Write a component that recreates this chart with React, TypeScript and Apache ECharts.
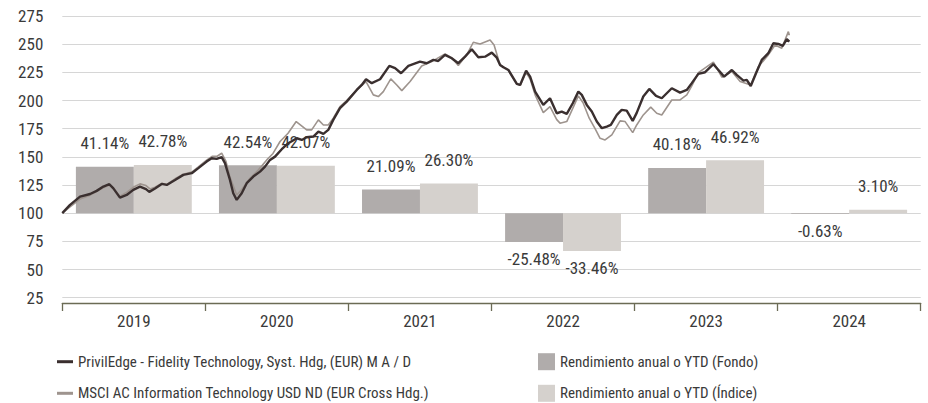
import React, { useEffect, useRef } from "react";
import * as echarts from "echarts";

const years = ["2019", "2020", "2021", "2022", "2023", "2024"];
const fundReturns = [41.14, 42.54, 21.09, -25.48, 40.18, -0.63];
const indexReturns = [42.78, 42.07, 26.3, -33.46, 46.92, 3.1];
const BASE = 100;
const yTicks = { min: 25, max: 275, interval: 25 };

const fundName = "PrivilEdge - Fidelity Technology, Syst. Hdg, (EUR) M A / D";
const indexName = "MSCI AC Information Technology USD ND (EUR Cross Hdg.)";
const fundBarName = "Rendimiento anual o YTD (Fondo)";
const indexBarName = "Rendimiento anual o YTD (Índice)";

// [decimal year, level]
const fundLine: [number, number][] = [
  [2019.0, 100], [2019.054, 107.4], [2019.124, 114.7], [2019.194, 117], [2019.24, 119.8],
  [2019.287, 123.6], [2019.329, 125.7], [2019.357, 122], [2019.403, 113.8], [2019.45, 116.2],
  [2019.496, 120.7], [2019.543, 123.6], [2019.585, 121.3], [2019.608, 118.9], [2019.648, 122],
  [2019.695, 126], [2019.73, 125.1], [2019.788, 129.5], [2019.846, 134], [2019.905, 135.5],
  [2019.951, 140], [2020.009, 145.8], [2020.044, 148.8], [2020.079, 148.2], [2020.114, 149.7],
  [2020.137, 144.4], [2020.172, 129.5], [2020.195, 117.7], [2020.219, 111.8], [2020.254, 117.7],
  [2020.289, 126.6], [2020.335, 132.5], [2020.382, 136.9], [2020.417, 141.3], [2020.452, 147.3],
  [2020.487, 150.2], [2020.534, 156.8], [2020.58, 162.1], [2020.639, 166.5], [2020.674, 165],
  [2020.708, 167.4], [2020.755, 168], [2020.79, 172.4], [2020.825, 170.4], [2020.859, 173.9],
  [2020.894, 182.8], [2020.941, 193.2], [2020.988, 199], [2021.058, 209.4], [2021.093, 213.8],
  [2021.123, 218.9], [2021.163, 215.4], [2021.221, 218.9], [2021.286, 230.7], [2021.326, 228.7],
  [2021.368, 224.2], [2021.419, 230.7], [2021.5, 234.5], [2021.547, 233.1], [2021.594, 236],
  [2021.628, 235.1], [2021.675, 240.5], [2021.722, 237.5], [2021.768, 233.1], [2021.815, 238.9],
  [2021.862, 245.5], [2021.908, 238.4], [2021.955, 238.9], [2022.002, 242.5], [2022.037, 238],
  [2022.06, 231.6], [2022.083, 229.5], [2022.118, 227.1], [2022.177, 214.7], [2022.2, 213.8],
  [2022.242, 226.5], [2022.27, 221.2], [2022.305, 207.9], [2022.362, 196.1], [2022.409, 202],
  [2022.456, 188.7], [2022.491, 190.2], [2022.526, 188.1], [2022.568, 197.6], [2022.607, 207.9],
  [2022.631, 205], [2022.666, 196.1], [2022.701, 190.2], [2022.736, 181.3], [2022.771, 175.4],
  [2022.806, 176.8], [2022.834, 178.3], [2022.876, 187.2], [2022.91, 191.7], [2022.945, 191],
  [2022.987, 181.9], [2023.015, 189], [2023.061, 203.5], [2023.103, 210.3], [2023.15, 204.1],
  [2023.19, 202], [2023.26, 210.9], [2023.318, 207], [2023.365, 209.4], [2023.4, 215.4],
  [2023.446, 223.6], [2023.493, 225.1], [2023.551, 232.2], [2023.586, 227.1], [2023.626, 221.2],
  [2023.68, 227.1], [2023.714, 222.7], [2023.761, 217.7], [2023.784, 218.3], [2023.812, 212.9],
  [2023.849, 224.2], [2023.889, 236], [2023.935, 242], [2023.97, 250.8], [2024.005, 250.2],
  [2024.036, 248.5], [2024.064, 254.4], [2024.082, 252.3],
];

const indexLine: [number, number][] = [
  [2019.0, 100], [2019.054, 105.5], [2019.124, 112.5], [2019.194, 116], [2019.287, 122.5],
  [2019.329, 125], [2019.357, 122], [2019.403, 115], [2019.45, 118.5], [2019.496, 123],
  [2019.543, 126], [2019.585, 124.5], [2019.613, 121.5], [2019.648, 123], [2019.695, 126.5],
  [2019.73, 125.5], [2019.788, 130.5], [2019.846, 134.5], [2019.905, 136.5], [2019.951, 141],
  [2020.009, 147], [2020.047, 150.5], [2020.082, 150.5], [2020.114, 153.2], [2020.144, 146],
  [2020.172, 132], [2020.219, 116.2], [2020.254, 121], [2020.312, 131], [2020.368, 138],
  [2020.429, 147.3], [2020.473, 153], [2020.522, 163.6], [2020.578, 171], [2020.635, 181.3],
  [2020.708, 173.9], [2020.743, 173.9], [2020.79, 182.8], [2020.825, 178.3], [2020.859, 178.3],
  [2020.894, 184.3], [2020.941, 194.6], [2020.988, 200], [2021.058, 209.4], [2021.123, 216.8],
  [2021.174, 205], [2021.209, 203.5], [2021.244, 207.9], [2021.296, 219.2], [2021.338, 213.8],
  [2021.373, 208.8], [2021.431, 216.8], [2021.512, 230.7], [2021.582, 234.5], [2021.675, 241.4],
  [2021.722, 238], [2021.768, 231], [2021.827, 240.5], [2021.873, 251.7], [2021.92, 250.2],
  [2021.99, 253.8], [2022.018, 249.3], [2022.06, 231.6], [2022.118, 227.1], [2022.177, 214.7],
  [2022.2, 213.5], [2022.242, 225], [2022.27, 219], [2022.305, 205], [2022.362, 189.3],
  [2022.409, 194.6], [2022.456, 183], [2022.479, 179.9], [2022.526, 181.3], [2022.568, 193],
  [2022.607, 204.1], [2022.64, 198], [2022.683, 184.3], [2022.724, 175], [2022.759, 166.5],
  [2022.794, 165], [2022.841, 169.5], [2022.899, 181.9], [2022.934, 181.3], [2022.987, 171.5],
  [2023.015, 178.3], [2023.061, 187.2], [2023.113, 194.1], [2023.155, 188.7], [2023.19, 187.2],
  [2023.26, 200.5], [2023.318, 200.5], [2023.365, 205], [2023.4, 213], [2023.446, 224.8],
  [2023.551, 234], [2023.61, 220.7], [2023.68, 225.7], [2023.738, 216.8], [2023.812, 213.8],
  [2023.866, 230.1], [2023.935, 240.5], [2023.982, 249.3], [2024.029, 246.4], [2024.075, 261.1],
  [2024.082, 258],
];

const FONT = "'Liberation Sans Narrow', 'Roboto Condensed', 'Liberation Sans', sans-serif";
const TEXT = "#3a3a3a";

function barLabel(v: number) {
  return v >= 0
    ? { show: true, position: "top", distance: 15 }
    : { show: true, position: "bottom", distance: 9 };
}

export default function App() {
  const ref = useRef<HTMLDivElement>(null);
  useEffect(() => {
    if (!ref.current) return;
    const chart = echarts.init(ref.current, undefined, { renderer: "svg" });
    const labelStyle = {
      color: TEXT,
      fontSize: 17,
      fontFamily: FONT,
      formatter: (p: any) => `${Number(p.value).toFixed(2)}%`,
    };
    chart.setOption({
      animation: false,
      backgroundColor: "#ffffff",
      textStyle: { fontFamily: FONT },
      grid: { left: 62.3, right: 7.3, top: 16, bottom: 105.3, containLabel: false },
      xAxis: [
        {
          type: "category",
          data: years,
          offset: 5.3,
          boundaryGap: true,
          axisLine: { show: true, lineStyle: { color: "#6b6b55", width: 1.3 } },
          axisTick: { show: true, length: 8, inside: false, lineStyle: { color: "#6b6b55", width: 1.3 } },
          axisLabel: { color: TEXT, fontSize: 17, fontFamily: FONT, margin: 9 },
          splitLine: { show: false },
        },
        {
          type: "value",
          min: 2019,
          max: 2025,
          show: false,
          splitLine: { show: false },
        },
      ],
      yAxis: {
        type: "value",
        min: yTicks.min,
        max: yTicks.max,
        interval: yTicks.interval,
        axisLine: { show: false },
        axisTick: { show: false },
        axisLabel: { color: TEXT, fontSize: 17, fontFamily: FONT, margin: 19, padding: [0, 0, 5, 0] },
        splitLine: { show: true, lineStyle: { color: "#d6d6d6", width: 1.2 } },
      },
      legend: [
        {
          data: [fundName, indexName],
          orient: "vertical",
          left: 57,
          top: 352.7,
          icon: "rect",
          itemWidth: 16,
          itemHeight: 3,
          itemGap: 13.6,
          textStyle: { color: TEXT, fontSize: 15, fontFamily: FONT, lineHeight: 18 },
          padding: 0,
          selectedMode: false,
        },
        {
          data: [fundBarName, indexBarName],
          orient: "vertical",
          left: 538,
          top: 352.7,
          icon: "rect",
          itemWidth: 17,
          itemHeight: 17,
          itemGap: 13.6,
          textStyle: { color: TEXT, fontSize: 15, fontFamily: FONT, lineHeight: 18 },
          padding: 0,
          selectedMode: false,
        },
      ],
      series: [
        {
          type: "bar",
          name: "_baseF",
          stack: "f",
          stackStrategy: "all",
          data: years.map(() => BASE),
          itemStyle: { color: "rgba(0,0,0,0)" },
          silent: true,
          barGap: "0%",
          barCategoryGap: "19%",
        },
        {
          type: "bar",
          name: fundBarName,
          stack: "f",
          stackStrategy: "all",
          color: "#b0acab",
          itemStyle: { color: "#b0acab" },
          data: fundReturns.map((v) => ({ value: v, label: barLabel(v) })),
          label: labelStyle,
          barGap: "0%",
          barCategoryGap: "19%",
        },
        {
          type: "bar",
          name: "_baseI",
          stack: "i",
          stackStrategy: "all",
          data: years.map(() => BASE),
          itemStyle: { color: "rgba(0,0,0,0)" },
          silent: true,
          barGap: "0%",
          barCategoryGap: "19%",
        },
        {
          type: "bar",
          name: indexBarName,
          stack: "i",
          stackStrategy: "all",
          color: "#d5d1cd",
          itemStyle: { color: "#d5d1cd" },
          data: indexReturns.map((v) => ({ value: v, label: barLabel(v) })),
          label: labelStyle,
          barGap: "0%",
          barCategoryGap: "19%",
        },
        {
          type: "line",
          name: indexName,
          xAxisIndex: 1,
          data: indexLine,
          showSymbol: false,
          symbol: "none",
          color: "#9e948e",
          lineStyle: { color: "#9e948e", width: 1.6 },
          itemStyle: { color: "#9e948e" },
          z: 3,
        },
        {
          type: "line",
          name: fundName,
          xAxisIndex: 1,
          data: fundLine,
          showSymbol: false,
          symbol: "none",
          color: "#3a2f2f",
          lineStyle: { color: "#3a2f2f", width: 2.4 },
          itemStyle: { color: "#3a2f2f" },
          z: 4,
        },
      ],
    });
    return () => chart.dispose();
  }, []);
  return (
    <div
      ref={ref}
      style={{ position: "fixed", left: 0, top: 0, width: 928, height: 403, background: "#fff" }}
    />
  );
}
